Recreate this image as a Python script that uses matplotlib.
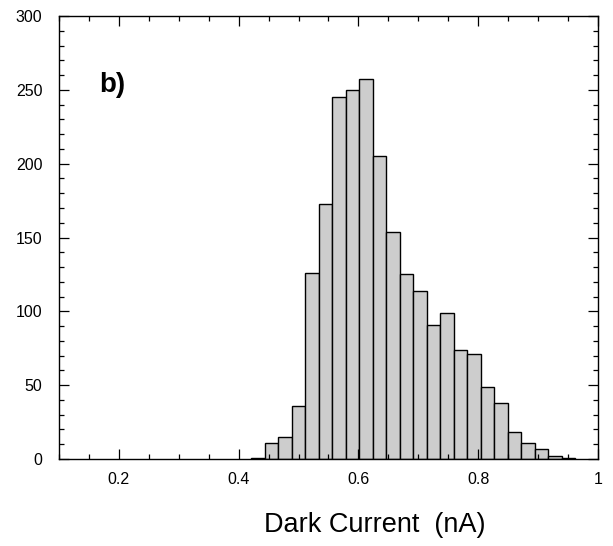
import numpy as np
import matplotlib
matplotlib.use("Agg")
import matplotlib.pyplot as plt
from matplotlib.ticker import MultipleLocator, FuncFormatter

# Data
bin_start = 0.421
bin_width = 0.02255
counts = [1, 11, 15, 36, 126, 173, 245, 250, 257, 205, 154, 125,
          114, 91, 99, 74, 71, 49, 38, 18, 11, 7, 2, 1]
x_ticks = [0.2, 0.4, 0.6, 0.8, 1.0]
y_ticks = [0, 50, 100, 150, 200, 250, 300]

plt.rcParams['font.family'] = ['Liberation Sans', 'DejaVu Sans']

fig = plt.figure(figsize=(6.13, 5.46), dpi=100)
ax = fig.add_axes([0.0962, 0.1593, 0.8793, 0.8114])

edges = bin_start + bin_width * np.arange(len(counts))
ax.bar(edges, counts, width=bin_width, align='edge',
       facecolor='#cdcdcd', edgecolor='black', linewidth=1.0)

ax.set_xlim(0.1, 1.0)
ax.set_ylim(0, 300)
ax.set_xticks(x_ticks)
ax.set_yticks(y_ticks)
ax.xaxis.set_minor_locator(MultipleLocator(0.05))
ax.yaxis.set_minor_locator(MultipleLocator(10))
ax.xaxis.set_major_formatter(FuncFormatter(lambda v, p: f"{v:g}"))
ax.tick_params(which='both', direction='in', top=True, right=True,
               labelsize=11.5, width=0.9)
ax.tick_params(which='major', length=7)
ax.tick_params(which='minor', length=3.5)
ax.tick_params(axis='x', pad=9)
ax.tick_params(axis='y', pad=12)
for s in ax.spines.values():
    s.set_linewidth(1.0)

ax.set_xlabel("Dark Current  (nA)", fontsize=19.5, x=0.585, labelpad=18)
ax.text(0.075, 0.845, "b)", transform=ax.transAxes, fontsize=20,
        fontweight='bold', ha='left', va='center')

fig.savefig("out.png", dpi=100)
